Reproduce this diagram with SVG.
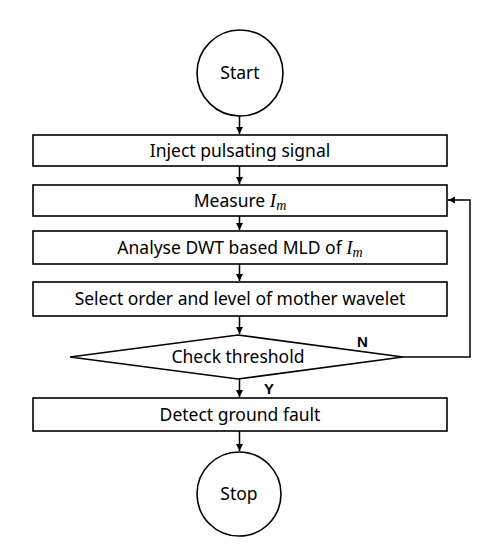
<svg xmlns="http://www.w3.org/2000/svg" width="483" height="550" viewBox="0 0 483 550">
<style>
.s{fill:#fff;stroke:#000;stroke-width:1.6}
.t{font-family:"Noto Sans","Open Sans",sans-serif;font-size:17.5px;fill:#000;text-anchor:middle}
.m{font-family:"Liberation Serif",serif;font-style:italic}
.c{fill:none;stroke:#000;stroke-width:1.5}
.l{font-family:"Liberation Sans",sans-serif;font-weight:bold;font-size:15px;fill:#000}
</style>
<defs>
<marker id="a" markerWidth="8" markerHeight="8" refX="7" refY="4" orient="auto" markerUnits="userSpaceOnUse">
<path d="M0,0.5 L7,4 L0,7.5 Z" fill="#000"/>
</marker>
</defs>
<rect width="483" height="550" fill="#fff"/>
<g id="connectors">
<line class="c" x1="239.5" y1="116" x2="239.5" y2="134" marker-end="url(#a)"/>
<line class="c" x1="239.5" y1="166" x2="239.5" y2="184" marker-end="url(#a)"/>
<line class="c" x1="239.5" y1="216" x2="239.5" y2="230" marker-end="url(#a)"/>
<line class="c" x1="239.5" y1="264" x2="239.5" y2="281" marker-end="url(#a)"/>
<line class="c" x1="239.5" y1="316" x2="239.5" y2="334" marker-end="url(#a)"/>
<line class="c" x1="239.5" y1="379" x2="239.5" y2="397" marker-end="url(#a)"/>
<line class="c" x1="239.5" y1="431" x2="239.5" y2="451" marker-end="url(#a)"/>
<polyline class="c" points="403,357 470,357 470,200 448,200" marker-end="url(#a)"/>
<text class="l" x="357" y="347">N</text>
<text class="l" x="264" y="394">Y</text>
</g>
<g id="start">
<circle class="s" cx="240" cy="73" r="43"/>
<text class="t" x="240" y="79">Start</text>
</g>
<g id="inject">
<rect class="s" x="33" y="135" width="414" height="31"/>
<text class="t" x="240" y="157">Inject pulsating signal</text>
</g>
<g id="measure">
<rect class="s" x="33" y="185" width="414" height="31"/>
<text class="t" x="240" y="207">Measure <tspan class="m" font-size="19">I</tspan><tspan class="m" font-size="14" dy="3">m</tspan></text>
</g>
<g id="analyse">
<rect class="s" x="33" y="231" width="414" height="33"/>
<text class="t" x="240" y="254">Analyse DWT based MLD of <tspan class="m" font-size="19">I</tspan><tspan class="m" font-size="14" dy="3">m</tspan></text>
</g>
<g id="select">
<rect class="s" x="33" y="282" width="414" height="34"/>
<text class="t" x="240" y="305">Select order and level of mother wavelet</text>
</g>
<g id="check">
<polygon class="s" points="238,335 403,357 238,379 70,357"/>
<text class="t" x="238" y="363">Check threshold</text>
</g>
<g id="detect">
<rect class="s" x="33" y="398" width="414" height="33"/>
<text class="t" x="240" y="421">Detect ground fault</text>
</g>
<g id="stop">
<circle class="s" cx="239" cy="494" r="42"/>
<text class="t" x="239" y="500">Stop</text>
</g>
</svg>
